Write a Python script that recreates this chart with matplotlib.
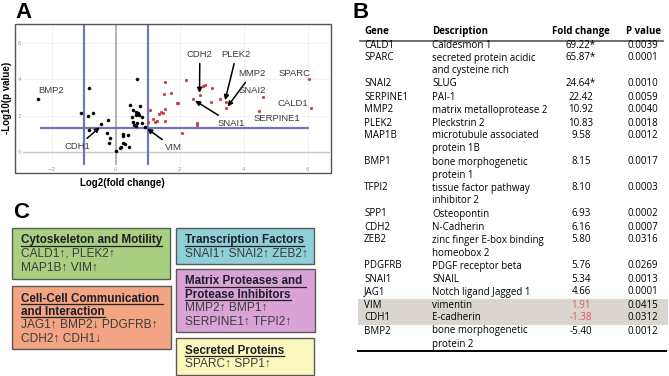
import matplotlib
matplotlib.use("Agg")
import matplotlib.pyplot as plt
from matplotlib.patches import Rectangle
from matplotlib.lines import Line2D

W, H = 669, 376

# ---- panel A data (log2 fold change, -log10 p) ----
black_x = [-2.43, -0.85, -1.10, -0.88, -0.72, -0.25, -0.46, -0.85, -0.26, -0.19,
           -0.21, 0.00, 0.13, 0.15, 0.23, 0.29, 0.22, 0.38, 0.41, 0.24, 0.67,
           0.44, 0.54, 0.62, 0.70, 0.77, 0.64, 0.72, 0.52, 0.54, 0.57, 0.66,
           0.83, 0.83, 0.62, 0.93]
black_y = [2.92, 3.52, 2.14, 1.98, 2.14, 1.74, 1.51, 1.18, 1.02, 0.75,
           0.48, 0.02, 0.18, 0.26, 0.48, 0.42, 0.85, 0.92, 0.24, 1.00, 4.02,
           2.56, 2.31, 2.21, 2.12, 2.53, 2.05, 2.03, 1.90, 1.62, 1.48, 1.61,
           1.94, 1.61, 1.42, 1.38]
red_x = [1.53, 2.20, 1.50, 1.72, 2.62, 2.73, 2.79, 2.42, 1.90, 1.96, 3.02,
         2.99, 3.26, 3.44, 3.45, 4.62, 4.49, 6.04, 6.11, 1.08, 1.40, 1.47,
         1.34, 1.55, 1.29, 1.22, 1.55, 1.02, 2.53, 2.54, 2.08, 1.16]
red_y = [3.87, 3.95, 3.21, 3.27, 3.15, 3.65, 3.70, 2.89, 2.70, 2.68, 3.52,
         2.77, 2.92, 2.74, 2.40, 3.00, 2.23, 4.00, 2.41, 2.31, 2.21, 2.16,
         2.09, 2.35, 1.72, 1.66, 1.72, 1.64, 1.57, 1.50, 1.05, 1.80]

# labels: (text, text position, arrow target or None)
labels = [
    ("CDH2", (2.63, 5.35), (2.62, 3.25)),
    ("PLEK2", (3.77, 5.35), (3.42, 2.85)),
    ("MMP2", (4.25, 4.30), (3.50, 2.50)),
    ("SNAI1", (3.61, 1.57), (2.48, 2.82)),
    ("CDH1", (-1.19, 0.28), (-0.50, 1.35)),
    ("VIM", (1.80, 0.22), (0.98, 1.28)),
    ("SPARC", (5.60, 4.30), None),
    ("SNAI2", (4.28, 3.38), None),
    ("CALD1", (5.55, 2.68), None),
    ("SERPINE1", (5.05, 1.81), None),
    ("BMP2", (-2.01, 3.38), None),
]

# ---- panel B data ----
genes = ["CALD1", "SPARC", "SNAI2", "SERPINE1", "MMP2", "PLEK2", "MAP1B", "BMP1",
         "TFPI2", "SPP1", "CDH2", "ZEB2", "PDGFRB", "SNAI1", "JAG1", "VIM",
         "CDH1", "BMP2"]
descriptions = ["Caldesmon 1", "secreted protein acidic\nand cysteine rich", "SLUG",
                "PAI-1", "matrix metalloprotease 2", "Pleckstrin 2",
                "microtubule associated\nprotein 1B", "bone morphogenetic\nprotein 1",
                "tissue factor pathway\ninhibitor 2", "Osteopontin", "N-Cadherin",
                "zinc finger E-box binding\nhomeobox 2", "PDGF receptor beta", "SNAIL",
                "Notch ligand Jagged 1", "vimentin", "E-cadherin",
                "bone morphogenetic\nprotein 2"]
fold_changes = ["69.22*", "65.87*", "24.64*", "22.42", "10.92", "10.83", "9.58",
                "8.15", "8.10", "6.93", "6.16", "5.80", "5.76", "5.34", "4.66",
                "1.91", "-1.38", "-5.40"]
p_values = ["0.0039", "0.0001", "0.0010", "0.0059", "0.0040", "0.0018", "0.0012",
            "0.0017", "0.0003", "0.0002", "0.0007", "0.0316", "0.0269", "0.0013",
            "0.0001", "0.0415", "0.0312", "0.0012"]
highlight = ["VIM", "CDH1"]

# ---- panel C data ----
boxes = [
    # (x0, y0, x1, y1) in pixels, colour, header lines, gene lines
    ((12, 228, 170, 279), "#a9cf80", ["Cytoskeleton and Motility"],
     ["CALD1\u2191, PLEK2\u2191", "MAP1B\u2191 VIM\u2191"]),
    ((12, 286, 171, 349), "#f2a483", ["Cell-Cell Communication ", "and Interaction"],
     ["JAG1\u2191 BMP2\u2193 PDGFRB\u2191", "CDH2\u2191 CDH1\u2193"]),
    ((176, 228, 314, 264), "#8ecfd8", ["Transcription Factors"],
     ["SNAI1\u2191 SNAI2\u2191 ZEB2\u2191"]),
    ((176, 269, 315, 332), "#d9a3d8", ["Matrix Proteases and ", "Protease Inhibitors"],
     ["MMP2\u2191 BMP1\u2191", "SERPINE1\u2191 TFPI2\u2191"]),
    ((176, 338, 314, 375), "#fbf8bd", ["Secreted Proteins"],
     ["SPARC\u2191 SPP1\u2191"]),
]


def fx(x):
    return x / W


def fy(y):
    return 1 - y / H


fig = plt.figure(figsize=(W / 100, H / 100), dpi=100)
sans = ["Liberation Sans", "DejaVu Sans"]

# ------------------ A: volcano plot ------------------
ax = fig.add_axes([fx(23), fy(165), (330 - 23) / W, (165 - 25) / H])
ax.set_xlim(-2.90, 6.70)
ax.set_ylim(-0.74, 7.01)
for s in ax.spines.values():
    s.set_visible(False)
ax.set_xticks([-2, 0, 2, 4, 6])
ax.set_yticks([0, 2, 4, 6])
ax.tick_params(length=0, labelsize=4, labelcolor="#999999", pad=1.5)
ax.grid(True, color="#f0f0f0", lw=0.6)
ax.set_axisbelow(True)
ax.axvline(0, color="#a8a8a8", lw=1.2, zorder=1)
ax.axhline(0, color="#c8c8c8", lw=1.0, zorder=1)
ax.axvline(-1, color="#7076b8", lw=1.6, zorder=2)
ax.axvline(1, color="#7076b8", lw=1.6, zorder=2)
ax.hlines(1.3, -2.37, 6.05, color="#7076b8", lw=1.6, zorder=2)

ax.scatter(black_x, black_y, s=5, color="black", marker="o", lw=0.3,
           edgecolor="black", zorder=3)
ax.scatter(red_x, red_y, s=4, color="#c83a3f", marker="o", lw=0.3,
           edgecolor="#c83a3f", zorder=3)

for text, tpos, target in labels:
    if target is None:
        ax.text(tpos[0], tpos[1], text, ha="center", va="center", fontsize=6.8,
                family=sans, color="#3a3a3a", zorder=4)
    else:
        ax.annotate(text, xy=target, xytext=tpos, ha="center", va="center",
                    fontsize=6.8, family=sans, color="#3a3a3a", zorder=4,
                    arrowprops=dict(arrowstyle="-|>", color="black", lw=1.1,
                                    mutation_scale=7, shrinkA=1, shrinkB=0))

fig.patches.append(Rectangle((fx(15), fy(173)), (331 - 15) / W, (173 - 24) / H,
                             transform=fig.transFigure, fill=False,
                             ec="#555555", lw=1.0))
fig.text(fx(7), fy(98), "-Log10(p value)", rotation=90, ha="center", va="center",
         fontsize=7, fontweight="bold", family=sans)
fig.text(fx(122), fy(183), "Log2(fold change)", ha="center", va="center",
         fontsize=7, fontweight="bold", family=sans)

fig.text(fx(15), fy(18), "A", fontsize=16, fontweight="bold", family=sans,
         ha="left", va="baseline")
fig.text(fx(352), fy(18.5), "B", fontsize=16, fontweight="bold", family=sans,
         ha="left", va="baseline")
fig.text(fx(13), fy(218), "C", fontsize=16, fontweight="bold", family=sans,
         ha="left", va="baseline")

# ------------------ B: table ------------------
tfont = ["Open Sans", "DejaVu Sans"]
tsize = 7.0
hsize = 7.0
col_gene, col_desc, col_fold, col_p = 364, 432, 581, 643
step = 13.0

fig.text(fx(col_gene), fy(31.7), "Gene", fontsize=hsize, fontweight="bold",
         family=tfont, ha="left", va="center")
fig.text(fx(col_desc), fy(31.7), "Description", fontsize=hsize, fontweight="bold",
         family=tfont, ha="left", va="center")
fig.text(fx(col_fold), fy(31.7), "Fold change", fontsize=hsize, fontweight="bold",
         family=tfont, ha="center", va="center")
fig.text(fx(col_p), fy(31.7), "P value", fontsize=hsize, fontweight="bold",
         family=tfont, ha="center", va="center")
fig.add_artist(Line2D([fx(360), fx(663)], [fy(40.7), fy(40.7)], color="#555555",
                      lw=1.2, transform=fig.transFigure))

y = 45.0
for g, d, f, p in zip(genes, descriptions, fold_changes, p_values):
    lines = d.split("\n")
    if g in highlight:
        fig.patches.append(Rectangle((fx(358), fy(y + 6.5)), (668 - 358) / W,
                                     step / H, transform=fig.transFigure,
                                     color="#dad5cf", lw=0, zorder=0))
    fig.text(fx(col_gene), fy(y), g, fontsize=tsize, family=tfont, ha="left",
             va="center")
    for i, ln in enumerate(lines):
        fig.text(fx(col_desc), fy(y + i * step), ln, fontsize=tsize, family=tfont,
                 ha="left", va="center")
    fig.text(fx(col_fold), fy(y), f, fontsize=tsize, family=tfont, ha="center",
             va="center", color="#e05a5a" if g in highlight else "black")
    fig.text(fx(col_p), fy(y), p, fontsize=tsize, family=tfont, ha="center",
             va="center")
    y += step * len(lines)

fig.add_artist(Line2D([fx(358), fx(666)], [fy(350.7), fy(350.7)], color="black",
                      lw=1.4, transform=fig.transFigure))

# ------------------ C: category boxes ------------------
header_texts = []
for (x0, y0, x1, y1), col, heads, genes_lines in boxes:
    fig.patches.append(Rectangle((fx(x0), fy(y1)), (x1 - x0) / W, (y1 - y0) / H,
                                 transform=fig.transFigure, fc=col,
                                 ec="#5a5a5a", lw=1.0))
    ty = y0 + 12.5
    tx = x0 + 9
    for h in heads:
        t = fig.text(fx(tx), fy(ty), h, fontsize=8.4, fontweight="bold",
                     family=sans, color="#1e1e2a", ha="left", va="center")
        header_texts.append((t, ty))
        ty += 13.3
    for gl in genes_lines:
        fig.text(fx(tx), fy(ty), gl, fontsize=8.6, family=sans, color="#3c3c3c",
                 ha="left", va="center")
        ty += 13.6

# underline the box headers
fig.canvas.draw()
renderer = fig.canvas.get_renderer()
for t, ty in header_texts:
    bb = t.get_window_extent(renderer)
    uy = fy(ty + 5.5)
    fig.add_artist(Line2D([bb.x0 / W, bb.x1 / W], [uy, uy], color="#222222",
                          lw=0.9, transform=fig.transFigure))

fig.savefig("out.png", dpi=100)
